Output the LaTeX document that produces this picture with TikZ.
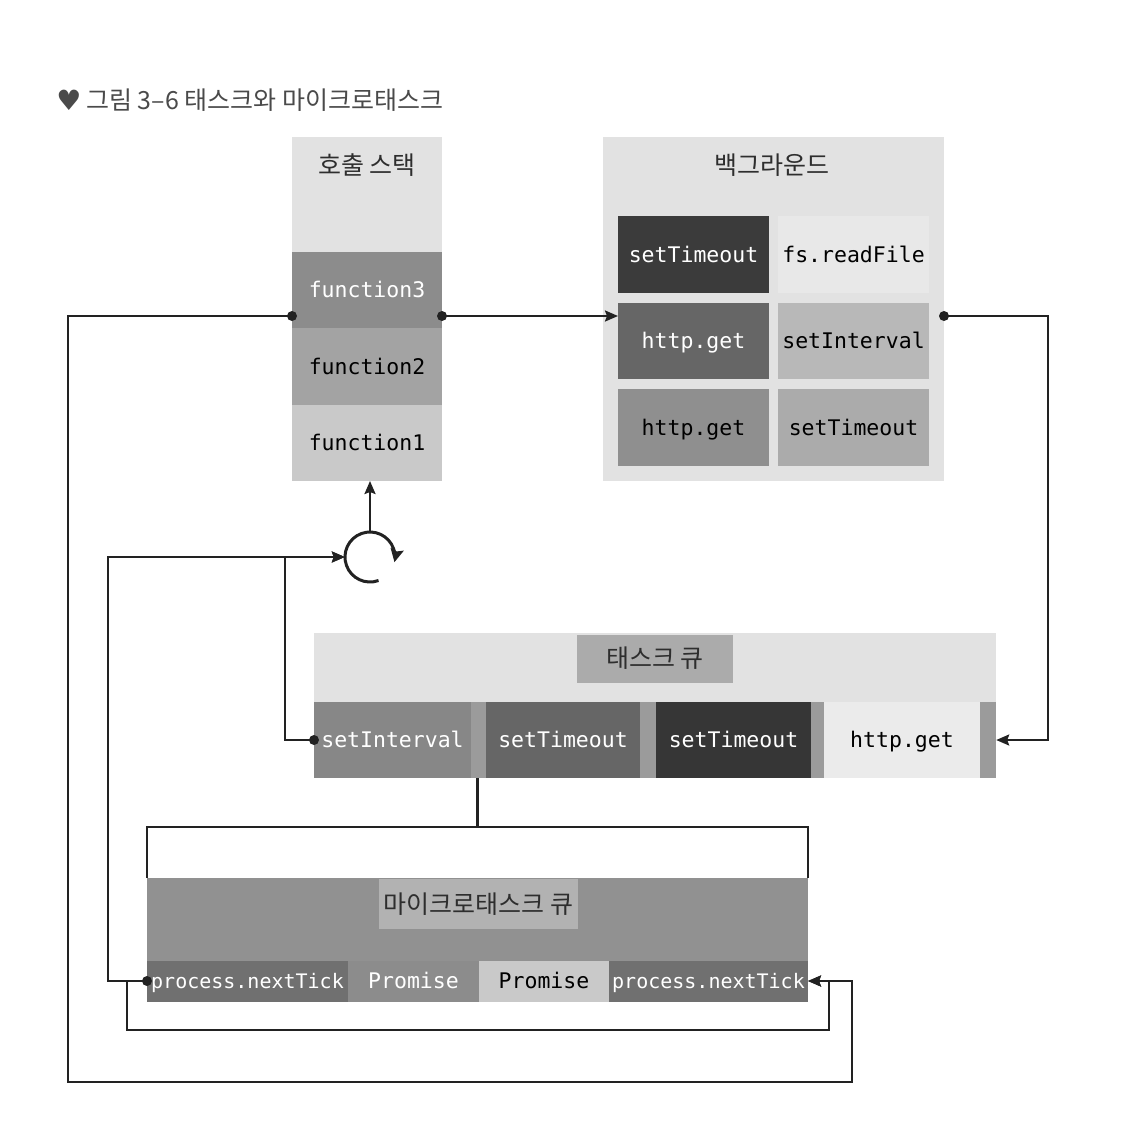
\documentclass[tikz,border=0pt]{standalone}
\usepackage{fontspec}
\setmonofont{DejaVu Sans Mono}
\newfontfamily\krfont{Noto Sans CJK KR}
\newfontfamily\symfont{DejaVu Sans}
\usetikzlibrary{arrows.meta}

\definecolor{panelgray}{HTML}{E2E2E2}
\definecolor{linegray}{HTML}{222222}
\definecolor{textgray}{HTML}{2E2E2E}
\definecolor{titlegray}{HTML}{4A4A4A}
\definecolor{stripgray}{HTML}{9B9B9B}

\newcommand\codefont{\ttfamily\fontsize{21.5}{24}\selectfont}
\newcommand\tickfont{\ttfamily\fontsize{20}{24}\selectfont}
\newcommand\krlabel{\krfont\fontsize{25}{30}\selectfont}

\begin{document}
\begin{tikzpicture}[x=1pt, y=-1pt,
    cell/.style={minimum width=150pt, minimum height=76pt, inner sep=0pt, outer sep=0pt,
                 font=\codefont, text height=20pt, text depth=5pt},
    darkcell/.style={cell, text=white},
    panel/.style={fill=panelgray, inner sep=0pt, outer sep=0pt},
    label/.style={font=\krlabel, text=textgray, inner sep=0pt, text height=21pt, text depth=3pt},
    line/.style={draw=linegray, line width=2.2pt},
    flow/.style={line, -{Stealth[length=13pt, width=11pt, inset=2pt]}},
]
    % 그림 크기: 1142 x 1128 (1px = 1pt, y축은 아래쪽)
    \useasboundingbox (0,0) rectangle (1142,1128);

    % 제목
    \node[text=titlegray, font=\symfont\fontsize{28}{32}\selectfont, inner sep=0pt] (heartIcon) at (69,100) {♥};
    \node[anchor=west, text=titlegray, font=\krlabel, inner sep=0pt] (figTitle) at (86,100) {그림 3–6 태스크와 마이크로태스크};

    % 호출 스택
    \node[panel, minimum width=150pt, minimum height=344pt] (stackPanel) at (367,309) {};
    \node[label] (stackLabel) at (367,165) {호출 스택};
    \node[darkcell, fill=black!45] (fnC) at (367,290) {function3};
    \node[cell, fill=black!36, minimum height=77pt] (fnB) at (367,366.5) {function2};
    \node[cell, fill=black!21] (fnA) at (367,443) {function1};

    % 백그라운드
    \node[panel, minimum width=341pt, minimum height=344pt] (bgPanel) at (773.5,309) {};
    \node[label] (bgLabel) at (772,165) {백그라운드};
    \node[darkcell, fill=black!77, minimum width=151pt, minimum height=77pt] (bgTimeoutA) at (693.5,254.5) {setTimeout};
    \node[cell, fill=black!9, minimum width=151pt, minimum height=77pt] (bgRead) at (853.5,254.5) {fs.readFile};
    \node[darkcell, fill=black!60, minimum width=151pt] (bgHttpA) at (693.5,341) {http.get};
    \node[cell, fill=black!28, minimum width=151pt] (bgInterval) at (853.5,341) {setInterval};
    \node[cell, fill=black!44, minimum width=151pt, minimum height=77pt] (bgHttpB) at (693.5,427.5) {http.get};
    \node[cell, fill=black!33, minimum width=151pt, minimum height=77pt] (bgTimeoutB) at (853.5,427.5) {setTimeout};

    % 태스크 큐
    \node[panel, minimum width=682pt, minimum height=145pt] (taskPanel) at (655,705.5) {};
    \node[label, fill=black!33, minimum width=156pt, minimum height=48pt] (taskLabel) at (655,658.5) {태스크 큐};
    \node[fill=stripgray, inner sep=0pt, minimum width=682pt, minimum height=76pt] (taskRow) at (655,740) {};
    \node[darkcell, fill=black!47, minimum width=157pt] (tqInterval) at (392.5,740) {setInterval};
    \node[darkcell, fill=black!60, minimum width=154pt] (tqTimeoutA) at (563,740) {setTimeout};
    \node[darkcell, fill=black!79, minimum width=155pt] (tqTimeoutB) at (733.5,740) {setTimeout};
    \node[cell, fill=black!8, minimum width=156pt] (tqHttp) at (902,740) {http.get};

    % 마이크로태스크 큐
    \node[fill=black!43, inner sep=0pt, minimum width=661pt, minimum height=123pt] (mtPanel) at (477.5,939.5) {};
    \node[label, fill=black!30, minimum width=199pt, minimum height=50pt] (mtLabel) at (478.5,904) {마이크로태스크 큐};
    \node[darkcell, font=\tickfont, fill=black!56, minimum width=201pt, minimum height=41pt] (mtTickA) at (247.5,981) {process.nextTick};
    \node[darkcell, fill=black!45, minimum width=131pt, minimum height=41pt] (mtPromA) at (413.5,981) {Promise};
    \node[cell, fill=black!21, minimum width=130pt, minimum height=41pt] (mtPromB) at (544,981) {Promise};
    \node[darkcell, font=\tickfont, fill=black!56, minimum width=199pt, minimum height=41pt] (mtTickB) at (708.5,981) {process.nextTick};

    % 이벤트 루프
    \node[circle, minimum size=50pt, inner sep=0pt] (loop) at (370,557) {};
    \draw[line, line width=3pt, -{Stealth[length=13pt, width=13pt, inset=2pt]}]
        (loop.center) ++(290:25pt) arc[start angle=290, end angle=-12, radius=25pt];
    \draw[flow] (loop.north) -- (loop.north |- fnA.south);

    % 호출 스택 -> 백그라운드
    \draw[flow] ([yshift=-26pt]fnC.east) coordinate (stackOut) -- (stackOut -| bgHttpA.west);

    % 백그라운드 -> 태스크 큐
    \draw[flow] ([yshift=-7pt]bgPanel.east) coordinate (bgOut) -- ++(104,0) |- (taskRow.east);

    % 태스크 큐 -> 이벤트 루프
    \draw[flow] (tqInterval.west) -- ++(-29,0) |- (loop.west);

    % 마이크로태스크 큐 -> 이벤트 루프
    \draw[flow] (mtTickA.west) -- ++(-39,0) |- (loop.west);
    \draw[flow] (mtTickA.west) -- ++(-20,0) -- ++(0,49) -| ([xshift=21pt]mtTickB.east) -- (mtTickB.east);

    % 호출 스택 -> 마이크로태스크 큐
    \draw[flow] ([yshift=-26pt]fnC.west) coordinate (stackIn) -- ++(-224,0) |- ([xshift=44pt, yshift=-101pt]mtTickB.east) |- (mtTickB.east);

    % 태스크 큐와 마이크로태스크 큐를 잇는 괄호
    \draw[line] (mtPanel.north west) -- ++(0,-51) coordinate (braceL) -| (mtPanel.north east);
    \draw[line] (braceL -| mtPanel.north) -- (mtPanel.north |- taskRow.south);

    % 점
    \foreach \p in {stackOut, stackIn, bgOut, tqInterval.west, mtTickA.west}
        \fill[linegray] (\p) circle (5pt);
\end{tikzpicture}
\end{document}
